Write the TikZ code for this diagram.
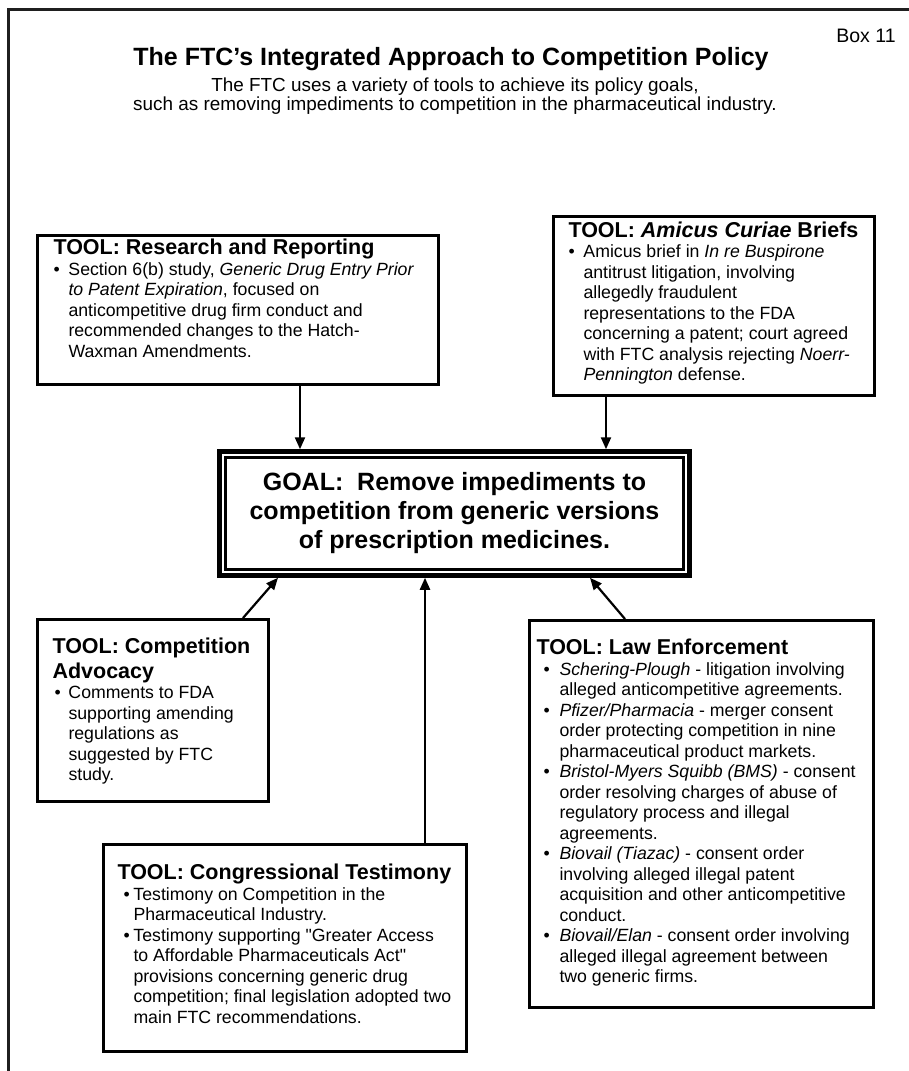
\documentclass[tikz,border=0pt]{standalone}
\usepackage{fontspec}
\setmainfont{Liberation Sans}
\usetikzlibrary{arrows.meta}

% bullet items with a hanging indent
\newlength\bulpos
\newlength\bultext
\newcommand{\bul}{\par\noindent\hangindent=\bultext\hangafter=1\hspace*{\bulpos}\makebox[\dimexpr\bultext-\bulpos\relax][l]{\textbullet}}
% width, height, top space, left space, text
\newcommand{\toolbody}[5]{\parbox[t][#2bp][t]{#1bp}{\raggedright\leftskip=#4bp\relax
  \fontsize{17.7bp}{20.5bp}\selectfont\vspace*{#3bp}#5\par}}
\newcommand{\toolhead}[1]{{\fontsize{21.5bp}{24.7bp}\selectfont\bfseries #1\par}}

\begin{document}
\begin{tikzpicture}[x=1bp, y=1bp,
    tool/.style={draw, line width=3bp, inner sep=0pt, anchor=north west},
    goalbox/.style={draw, line width=3.5bp, minimum width=471bp, minimum height=125bp,
      align=center, font=\fontsize{25bp}{29bp}\selectfont\bfseries},
    arr/.style={line width=2.2bp, -{Triangle[length=12bp, width=10bp]}}]
  \useasboundingbox (0,0) rectangle (909,-1071);
  % frame of the box
  \draw[line width=2.5bp, black!88] (909,-9.5) -- (8.5,-9.5) -- (8.5,-1071);
  \node[font=\fontsize{19.5bp}{22bp}\selectfont] (boxno) at (866,-36) {Box 11};
  \node[font=\fontsize{25bp}{29bp}\selectfont\bfseries] (title) at (451,-59) {The FTC’s Integrated Approach to Competition Policy};
  \node[align=center, font=\fontsize{18.9bp}{19bp}\selectfont] (intro) at (455,-96.5) {The FTC uses a variety of tools to achieve its policy goals,\\ such as removing impediments to competition in the pharmaceutical industry.};

  % goal in the middle
  \node[goalbox] (goal) at (454.5,-513.5) {GOAL:~ Remove impediments to\\ competition from generic versions\\ of prescription medicines.};
  \draw[line width=0.8bp] ([shift={(4.5bp,-4.5bp)}]goal.north west) rectangle ([shift={(-4.5bp,4.5bp)}]goal.south east);
  \draw[line width=3bp] ([shift={(8.5bp,-8.5bp)}]goal.north west) rectangle ([shift={(-8.5bp,8.5bp)}]goal.south east);

  % the tools
  \node[tool] (research) at (36,-234) {\toolbody{401}{149}{3.6}{16}{\setlength\bulpos{0bp}\setlength\bultext{15bp}%
    \toolhead{TOOL: Research and Reporting}
    \bul Section 6(b) study, \textit{Generic Drug Entry Prior}\newline \textit{to Patent Expiration}, focused on\newline anticompetitive drug firm conduct and\newline recommended changes to the Hatch-\newline Waxman Amendments.}};
  \node[tool] (amicus) at (552,-215) {\toolbody{321}{179}{5}{15}{\setlength\bulpos{0bp}\setlength\bultext{15bp}%
    \toolhead{TOOL: \textit{Amicus Curiae} Briefs}
    \bul Amicus brief in \textit{In re Buspirone}\newline antitrust litigation, involving\newline allegedly fraudulent\newline representations to the FDA\newline concerning a patent; court agreed\newline with FTC analysis rejecting \textit{Noerr-}\newline \textit{Pennington} defense.}};
  \node[tool] (advocacy) at (36,-618) {\toolbody{231}{182}{18.6}{15}{\setlength\bulpos{2bp}\setlength\bultext{16bp}%
    \toolhead{TOOL: Competition\newline Advocacy}
    \bul Comments to FDA\newline supporting amending\newline regulations as\newline suggested by FTC\newline study.}};
  \node[tool] (congress) at (102,-843) {\toolbody{363}{207}{19.6}{14}{\setlength\bulpos{6bp}\setlength\bultext{16bp}%
    \toolhead{TOOL: Congressional Testimony}
    \bul Testimony on Competition in the\newline Pharmaceutical Industry.
    \bul Testimony supporting \textquotedbl Greater Access\newline to Affordable Pharmaceuticals Act\textquotedbl\newline provisions concerning generic drug\newline competition; final legislation adopted two\newline main FTC recommendations.}};
  \node[tool] (law) at (528,-619) {\toolbody{344}{387}{18.6}{7}{\setlength\bulpos{7bp}\setlength\bultext{23bp}%
    \toolhead{TOOL: Law Enforcement}
    \bul \textit{Schering-Plough} - litigation involving\newline alleged anticompetitive agreements.
    \bul \textit{Pfizer/Pharmacia} - merger consent\newline order protecting competition in nine\newline pharmaceutical product markets.
    \bul \textit{Bristol-Myers Squibb (BMS)} - consent\newline order resolving charges of abuse of\newline regulatory process and illegal\newline agreements.
    \bul \textit{Biovail (Tiazac)} - consent order\newline involving alleged illegal patent\newline acquisition and other anticompetitive\newline conduct.
    \bul \textit{Biovail/Elan} - consent order involving\newline alleged illegal agreement between\newline two generic firms.}};

  % arrows into the goal
  \draw[arr] (research.south -| 300,0) -- (goal.north -| 300,0);
  \draw[arr] (amicus.south -| 606,0) -- (goal.north -| 606,0);
  \draw[arr] (advocacy.north -| 243,0) -- (goal.south -| 278,0);
  \draw[arr] (congress.north -| 425,0) -- (goal.south -| 425,0);
  \draw[arr] (law.north -| 625,0) -- (goal.south -| 590,0);
\end{tikzpicture}
\end{document}
